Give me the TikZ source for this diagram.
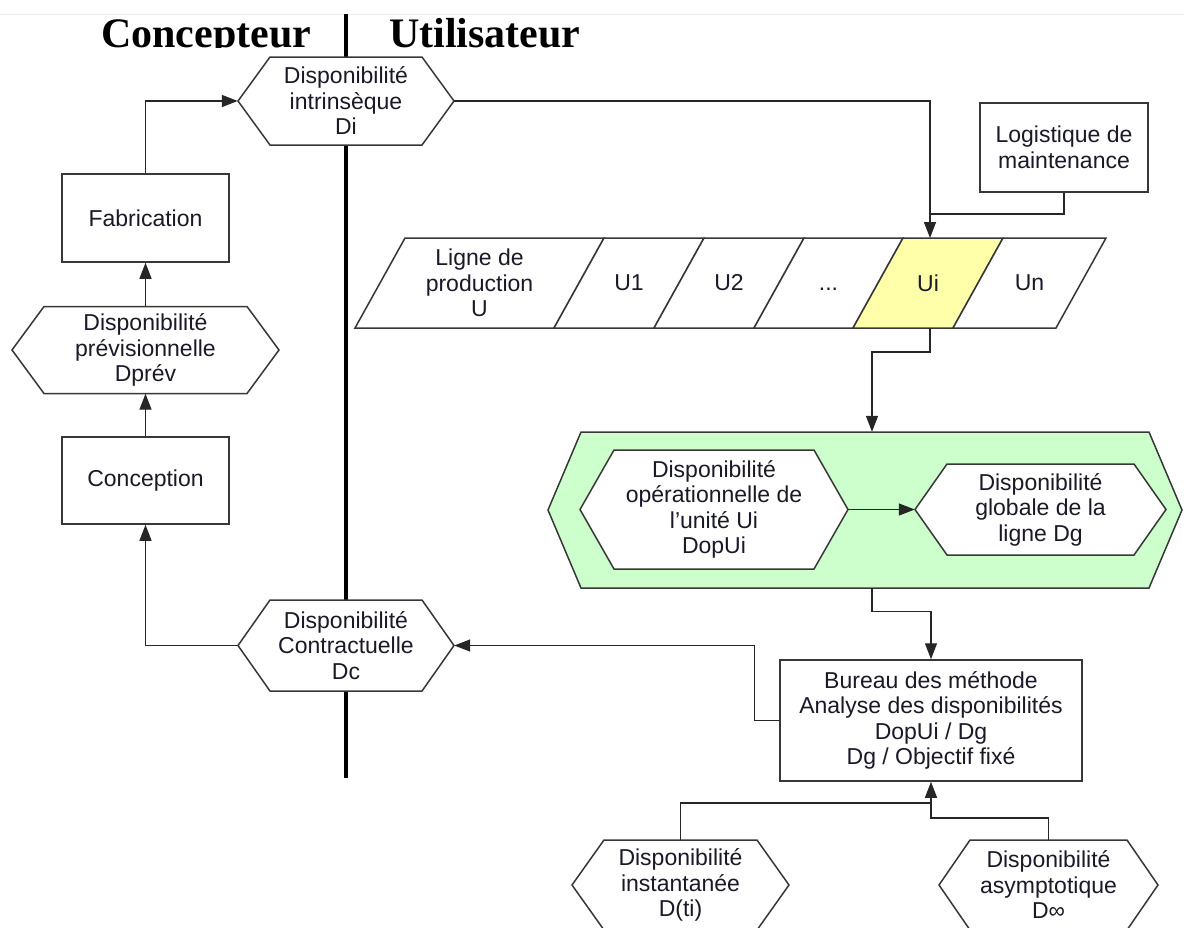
\documentclass[tikz,border=0pt]{standalone}
\usepackage{fontspec}
\setmainfont{Liberation Sans}
\newfontfamily\hdrfont{Liberation Serif}
\usetikzlibrary{arrows.meta,calc}

\definecolor{inkc}{RGB}{25,25,40}
\definecolor{edgec}{RGB}{55,55,55}
\definecolor{zonegreen}{RGB}{204,255,204}
\definecolor{cellyellow}{RGB}{255,255,170}

\tikzset{
  lbl/.style={font=\fontsize{23}{25.5}\selectfont, text=inkc, align=center, inner sep=0pt},
  shapeline/.style={draw=edgec, line width=1.5pt, line join=miter},
  link/.style={draw=black!85, line width=1.4pt},
  arr/.style={link, -{Triangle[length=16pt,width=12pt]}},
  boxnode/.style={lbl, shapeline, fill=white},
  hdr/.style={anchor=base west, inner sep=0pt, font=\hdrfont\bfseries\fontsize{42}{46}\selectfont, text=black},
}

% hexagon: name, cx, cy, half width, half height, slant inset, fill, text
\newcommand\hexagonnode[8]{%
  \path[shapeline, fill=#7] (#2-#4,#3) -- (#2-#4+#6,#3-#5) -- (#2+#4-#6,#3-#5)
    -- (#2+#4,#3) -- (#2+#4-#6,#3+#5) -- (#2-#4+#6,#3+#5) -- cycle;
  \node[lbl, minimum width={2*#4}, minimum height={2*#5}] (#1) at (#2,#3) {#8};
}

% slanted cell of the production line: name, bottom-left x, bottom-right x, fill, text
\newcommand\cellnode[5]{%
  \path[shapeline, fill=#4] (#2,328) -- (#3,328) -- (#3+50,238) -- (#2+50,238) -- cycle;
  \node[lbl] (#1) at ({(#2+#3)/2+25},283) {#5};
}

\begin{document}
\begin{tikzpicture}[x=1pt,y=-1pt]
\useasboundingbox (0,0) rectangle (1184,927);

% page rule and the designer / user divider
\draw[gray!15, line width=1pt] (0,14) -- (1184,14);
\draw[black, line width=4.5pt] (346,14) -- (346,778);

% headings
\begin{scope}
  \clip (0,14) rectangle (1184,47.5);
  \node[hdr] (hconc) at (101,47) {Concepteur};
  \node[hdr] (hutil) at (389,47) {Utilisateur};
\end{scope}

% designer side
\hexagonnode{di}{346}{101}{108}{44}{32}{white}{Disponibilité\\intrinsèque\\Di}
\node[boxnode, minimum width=167pt, minimum height=88pt] (fab) at (145.5,218) {Fabrication};
\hexagonnode{dprev}{145.5}{350}{133.5}{43.5}{32}{white}{Disponibilité\\prévisionnelle\\Dprév}
\node[boxnode, minimum width=167pt, minimum height=87pt] (conc) at (145.5,480.5) {Conception};
\hexagonnode{dc}{346}{645.5}{108}{45.5}{32}{white}{Disponibilité\\Contractuelle\\Dc}

% user side
\node[boxnode, minimum width=168pt, minimum height=89pt] (logi) at (1064,147.5) {Logistique de\\maintenance};

\cellnode{u0}{355}{554}{white}{Ligne de\\production\\U}
\cellnode{u1}{554}{654}{white}{U1}
\cellnode{u2}{654}{754}{white}{U2}
\cellnode{u3}{754}{853}{white}{\vphantom{U}...}
\cellnode{ui}{853}{953}{cellyellow}{Ui}
\cellnode{un}{953}{1056}{white}{Un}

\hexagonnode{zone}{865}{510}{317}{78}{33}{zonegreen}{}
\hexagonnode{dopui}{714}{509.5}{134}{59.5}{34}{white}{Disponibilité\\opérationnelle de\\l’unité Ui\\DopUi}
\hexagonnode{dg}{1040.5}{509.5}{125.5}{45.5}{32}{white}{Disponibilité\\globale de la\\ligne Dg}

\node[boxnode, minimum width=302pt, minimum height=121pt] (bureau) at (931,720.5)
  {Bureau des méthode\\Analyse des disponibilités\\DopUi / Dg\\Dg / Objectif fixé};

\hexagonnode{dti}{680.5}{885}{108.5}{45}{32}{white}{Disponibilité\\instantanée\\D(ti)}
\hexagonnode{dinf}{1048.5}{885}{109.5}{45}{31}{white}{Disponibilité\\asymptotique\\D∞}

% connection points on the slanted cells and the green zone
\coordinate (uiin) at (930,238);
\coordinate (uiout) at (930,328);
\coordinate (logjoin) at (930,214);
\coordinate (zonein) at ($(zone.north)+(7,0)$);
\coordinate (zoneout) at ($(zone.south)+(7,0)$);

% connectors
\draw[arr] (dc.west) -| (conc.south);
\draw[arr] (conc.north) -- (dprev.south);
\draw[arr] (dprev.north) -- (fab.south);
\draw[arr] (fab.north) |- (di.west);
\draw[arr] (di.east) -| (uiin);
\draw[link] (logi.south) |- (logjoin);
\draw[arr] (uiout) -- ++(0,24) -| (zonein);
\draw[arr] (dopui.east) -- (dg.west);
\draw[arr] (zoneout) -- ++(0,23) -| (bureau.north);
\draw[arr] (bureau.west) -- ++(-25,0) |- (dc.east);
\draw[arr] (dti.north) -- ++(0,-37) -| (bureau.south);
\draw[link] (dinf.north) -- ++(0,-22) -| ($(bureau.south)+(0,22)$);
\end{tikzpicture}
\end{document}
